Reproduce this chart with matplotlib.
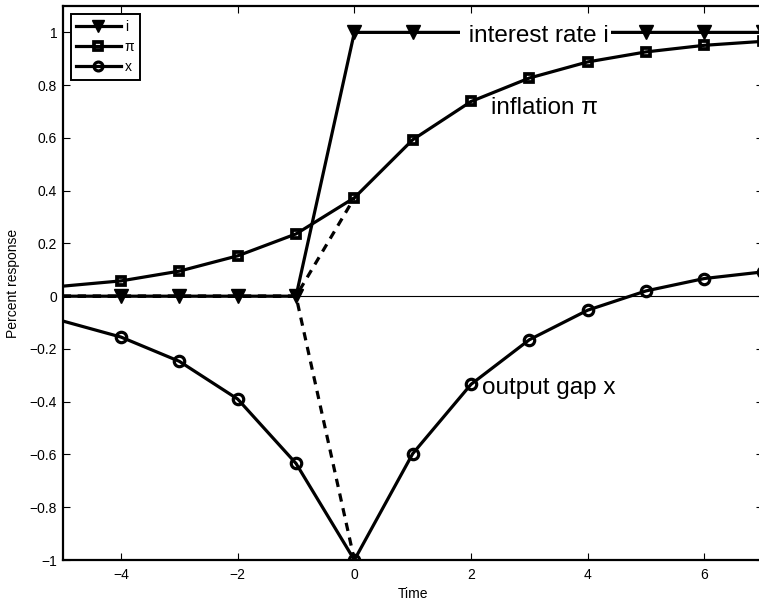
import numpy as np
import matplotlib.pyplot as plt
from matplotlib.ticker import FuncFormatter

plt.rcParams['font.family'] = ['Liberation Sans', 'DejaVu Sans']

# Time axis and impulse responses
time = [-5, -4, -3, -2, -1, 0, 1, 2, 3, 4, 5, 6, 7]
interest = [0, 0, 0, 0, 0, 1, 1, 1, 1, 1, 1, 1, 1]
inflation = [0.038, 0.058, 0.095, 0.153, 0.236, 0.373, 0.593, 0.738, 0.827, 0.888, 0.926, 0.951, 0.966]
output_gap = [-0.094, -0.155, -0.247, -0.39, -0.634, -1.0, -0.597, -0.334, -0.165, -0.053, 0.02, 0.067, 0.092]

# unanticipated case: nothing moves before the shock
time_dashed = [-5, -4, -3, -2, -1, 0]
inflation_dashed = [0, 0, 0, 0, 0, 0.373]
output_gap_dashed = [0, 0, 0, 0, 0, -1.0]


def tick_fmt(v, pos):
    v = round(v, 6)
    if v == 0:
        return '0'
    return f'{v:g}'.replace('-', '\u2212')


fig = plt.figure(figsize=(7.59, 6.01), dpi=100)
ax = fig.add_axes([62.7 / 759, 41 / 601, 700 / 759, 554 / 601])

lw = 2.3
ax.axhline(0, color='k', linewidth=0.8, zorder=1)

# dashed lines first, solid ones drawn over them
ax.plot(time_dashed, inflation_dashed, color='k', linestyle=(0, (2.6, 2.1)), linewidth=lw, zorder=2)
ax.plot(time_dashed, output_gap_dashed, color='k', linestyle=(0, (2.6, 2.1)), linewidth=lw, zorder=2)

skip_first = slice(1, None)
l_i, = ax.plot(time, interest, color='k', linewidth=lw, marker='v', markersize=9.5,
               markerfacecolor='k', markeredgecolor='k', markevery=skip_first, label='i', zorder=3)
l_pi, = ax.plot(time, inflation, color='k', linewidth=lw, marker='s', markersize=6,
                markerfacecolor='none', markeredgecolor='k', markeredgewidth=2.7,
                markevery=skip_first, label='π', zorder=3)
l_x, = ax.plot(time, output_gap, color='k', linewidth=lw, marker='o', markersize=7.5,
               markerfacecolor='none', markeredgecolor='k', markeredgewidth=2.3,
               markevery=skip_first, label='x', zorder=3)

# labels written on the chart
ax.text(1.84, 0.965, ' interest rate i', fontsize=17.5, ha='left', va='baseline', zorder=5,
        bbox=dict(facecolor='white', edgecolor='none', pad=1.5))
ax.text(2.35, 0.69, 'inflation π', fontsize=17.5, ha='left', va='baseline', zorder=5)
ax.text(2.19, -0.37, 'output gap x', fontsize=17.5, ha='left', va='baseline', zorder=5)

ax.set_xlim(-5, 7)
ax.set_ylim(-1.0, 1.1)
ax.set_xticks([-4, -2, 0, 2, 4, 6])
ax.set_yticks(np.round(np.arange(-1, 1.01, 0.2), 1))
ax.xaxis.set_major_formatter(FuncFormatter(tick_fmt))
ax.yaxis.set_major_formatter(FuncFormatter(tick_fmt))
ax.tick_params(direction='in', length=5, width=0.8, top=True, right=True, labelsize=10)
ax.tick_params(axis='x', pad=6)
ax.tick_params(axis='y', pad=4)
for s in ax.spines.values():
    s.set_linewidth(1.6)

ax.set_xlabel('Time', fontsize=10, labelpad=3)
ax.set_ylabel('Percent response', fontsize=10, labelpad=7)

leg = ax.legend(handles=[l_i, l_pi, l_x], loc='upper left', bbox_to_anchor=(70.7 / 759, 1 - 14.3 / 601),
                bbox_transform=fig.transFigure, borderaxespad=0, fontsize=10, numpoints=1,
                handlelength=3.2, handletextpad=0.3, labelspacing=0.45, borderpad=0.4,
                fancybox=False, framealpha=1, edgecolor='k', markerscale=0.85)
leg.get_frame().set_linewidth(1.4)

fig.savefig('out.png', dpi=100)
